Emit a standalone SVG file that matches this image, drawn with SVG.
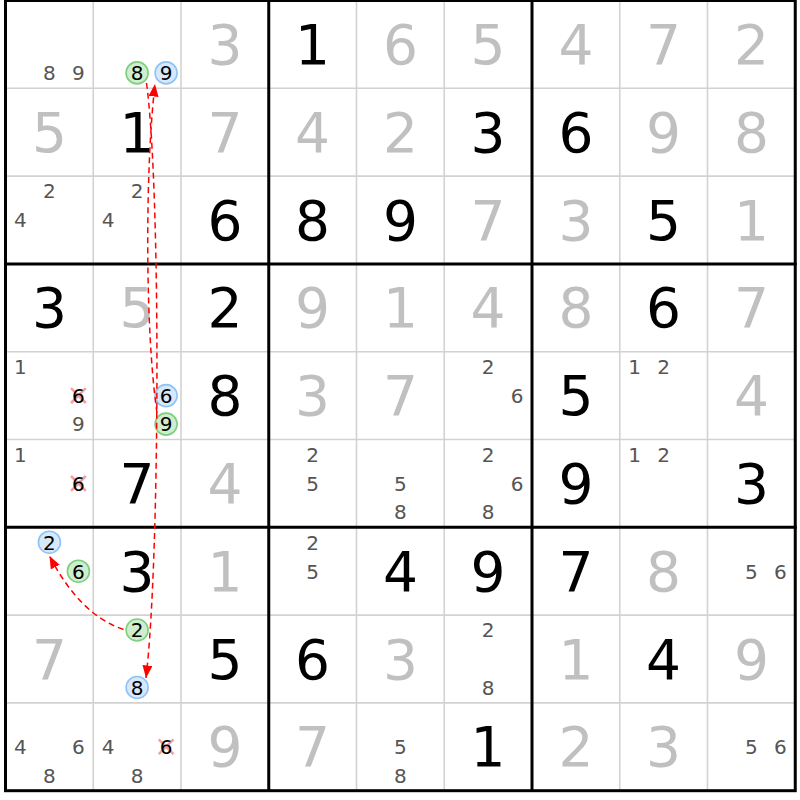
<svg xmlns="http://www.w3.org/2000/svg" width="800" height="800" viewBox="0 0 800 800">
<style>
text{font-family:"DejaVu Sans","Liberation Sans",sans-serif;text-anchor:middle}
.g{font-size:55px;fill:#000}
.s{font-size:55px;fill:#c0c0c0}
.c{font-size:20px;fill:#555}
.k{font-size:20px;fill:#000}
.thin{stroke:#d2d2d2;stroke-width:1.6}
.thick{stroke:#000;stroke-width:3}
.cg{fill:#cfeecf;stroke:#7ccf7c;stroke-width:1.6}
.cb{fill:#d6e9fc;stroke:#8fc3f3;stroke-width:1.6}
.x{stroke:#f3a0a0;stroke-width:2.5}
.ln{fill:none;stroke:#f00;stroke-width:1.5;stroke-dasharray:6,4}
</style>
<defs>
<marker id="ah" markerUnits="userSpaceOnUse" markerWidth="14" markerHeight="12" refX="12.5" refY="5" orient="auto">
<path d="M0,0 L12.5,5 L0,10 z" fill="#f00"/>
</marker>
</defs>
<rect width="800" height="800" fill="#fff"/>
<g id="grid">
<g class="thin">
<line x1="93.25" y1="0" x2="93.25" y2="791"/><line x1="181" y1="0" x2="181" y2="791"/>
<line x1="356.5" y1="0" x2="356.5" y2="791"/><line x1="444.25" y1="0" x2="444.25" y2="791"/>
<line x1="619.75" y1="0" x2="619.75" y2="791"/><line x1="707.5" y1="0" x2="707.5" y2="791"/>
<line x1="5" y1="88.3" x2="796" y2="88.3"/><line x1="5" y1="176.1" x2="796" y2="176.1"/>
<line x1="5" y1="351.7" x2="796" y2="351.7"/><line x1="5" y1="439.5" x2="796" y2="439.5"/>
<line x1="5" y1="615.1" x2="796" y2="615.1"/><line x1="5" y1="702.9" x2="796" y2="702.9"/>
</g>
<g class="thick">
<line x1="268.75" y1="0" x2="268.75" y2="791"/><line x1="532" y1="0" x2="532" y2="791"/>
<line x1="4" y1="263.9" x2="796.7" y2="263.9"/><line x1="4" y1="527.3" x2="796.7" y2="527.3"/>
<rect x="5.5" y="0.5" width="789.75" height="790.2" fill="none"/>
</g>
</g>
<g id="row1">
<g id="r1c1"><text class="c" x="49.4" y="80.2">8</text><text class="c" x="78.4" y="80.2">9</text></g>
<g id="r1c2"><circle class="cg" cx="137.1" cy="72.9" r="11"/><circle class="cb" cx="166.1" cy="72.9" r="11"/><text class="k" x="137.1" y="80.2">8</text><text class="k" x="166.1" y="80.2">9</text></g>
<g id="r1c3"><text class="s" x="224.9" y="63.9">3</text></g>
<g id="r1c4"><text class="g" x="312.6" y="63.9">1</text></g>
<g id="r1c5"><text class="s" x="400.4" y="63.9">6</text></g>
<g id="r1c6"><text class="s" x="488.1" y="63.9">5</text></g>
<g id="r1c7"><text class="s" x="575.9" y="63.9">4</text></g>
<g id="r1c8"><text class="s" x="663.6" y="63.9">7</text></g>
<g id="r1c9"><text class="s" x="751.4" y="63.9">2</text></g>
</g>
<g id="row2">
<g id="r2c1"><text class="s" x="49.4" y="151.7">5</text></g>
<g id="r2c2"><text class="g" x="137.1" y="151.7">1</text></g>
<g id="r2c3"><text class="s" x="224.9" y="151.7">7</text></g>
<g id="r2c4"><text class="s" x="312.6" y="151.7">4</text></g>
<g id="r2c5"><text class="s" x="400.4" y="151.7">2</text></g>
<g id="r2c6"><text class="g" x="488.1" y="151.7">3</text></g>
<g id="r2c7"><text class="g" x="575.9" y="151.7">6</text></g>
<g id="r2c8"><text class="s" x="663.6" y="151.7">9</text></g>
<g id="r2c9"><text class="s" x="751.4" y="151.7">8</text></g>
</g>
<g id="row3">
<g id="r3c1"><text class="c" x="49.4" y="198.3">2</text><text class="c" x="20.4" y="227.3">4</text></g>
<g id="r3c2"><text class="c" x="137.1" y="198.3">2</text><text class="c" x="108.1" y="227.3">4</text></g>
<g id="r3c3"><text class="g" x="224.9" y="239.5">6</text></g>
<g id="r3c4"><text class="g" x="312.6" y="239.5">8</text></g>
<g id="r3c5"><text class="g" x="400.4" y="239.5">9</text></g>
<g id="r3c6"><text class="s" x="488.1" y="239.5">7</text></g>
<g id="r3c7"><text class="s" x="575.9" y="239.5">3</text></g>
<g id="r3c8"><text class="g" x="663.6" y="239.5">5</text></g>
<g id="r3c9"><text class="s" x="751.4" y="239.5">1</text></g>
</g>
<g id="row4">
<g id="r4c1"><text class="g" x="49.4" y="327.3">3</text></g>
<g id="r4c2"><text class="s" x="137.1" y="327.3">5</text></g>
<g id="r4c3"><text class="g" x="224.9" y="327.3">2</text></g>
<g id="r4c4"><text class="s" x="312.6" y="327.3">9</text></g>
<g id="r4c5"><text class="s" x="400.4" y="327.3">1</text></g>
<g id="r4c6"><text class="s" x="488.1" y="327.3">4</text></g>
<g id="r4c7"><text class="s" x="575.9" y="327.3">8</text></g>
<g id="r4c8"><text class="g" x="663.6" y="327.3">6</text></g>
<g id="r4c9"><text class="s" x="751.4" y="327.3">7</text></g>
</g>
<g id="row5">
<g id="r5c1"><text class="c" x="20.4" y="373.9">1</text><path class="x" d="M71,388.2 L85.8,403 M85.8,388.2 L71,403"/><text class="k" x="78.4" y="402.9">6</text><text class="c" x="78.4" y="431.4">9</text></g>
<g id="r5c2"><circle class="cb" cx="166.1" cy="395.6" r="11"/><circle class="cg" cx="166.1" cy="424.1" r="11"/><text class="k" x="166.1" y="402.9">6</text><text class="k" x="166.1" y="431.4">9</text></g>
<g id="r5c3"><text class="g" x="224.9" y="415.1">8</text></g>
<g id="r5c4"><text class="s" x="312.6" y="415.1">3</text></g>
<g id="r5c5"><text class="s" x="400.4" y="415.1">7</text></g>
<g id="r5c6"><text class="c" x="488.1" y="373.9">2</text><text class="c" x="517.1" y="402.9">6</text></g>
<g id="r5c7"><text class="g" x="575.9" y="415.1">5</text></g>
<g id="r5c8"><text class="c" x="634.6" y="373.9">1</text><text class="c" x="663.6" y="373.9">2</text></g>
<g id="r5c9"><text class="s" x="751.4" y="415.1">4</text></g>
</g>
<g id="row6">
<g id="r6c1"><text class="c" x="20.4" y="461.7">1</text><path class="x" d="M71,476 L85.8,490.8 M85.8,476 L71,490.8"/><text class="k" x="78.4" y="490.7">6</text></g>
<g id="r6c2"><text class="g" x="137.1" y="502.9">7</text></g>
<g id="r6c3"><text class="s" x="224.9" y="502.9">4</text></g>
<g id="r6c4"><text class="c" x="312.6" y="461.7">2</text><text class="c" x="312.6" y="490.7">5</text></g>
<g id="r6c5"><text class="c" x="400.4" y="490.7">5</text><text class="c" x="400.4" y="519.2">8</text></g>
<g id="r6c6"><text class="c" x="488.1" y="461.7">2</text><text class="c" x="517.1" y="490.7">6</text><text class="c" x="488.1" y="519.2">8</text></g>
<g id="r6c7"><text class="g" x="575.9" y="502.9">9</text></g>
<g id="r6c8"><text class="c" x="634.6" y="461.7">1</text><text class="c" x="663.6" y="461.7">2</text></g>
<g id="r6c9"><text class="g" x="751.4" y="502.9">3</text></g>
</g>
<g id="row7">
<g id="r7c1"><circle class="cb" cx="49.4" cy="542.2" r="11"/><circle class="cg" cx="78.4" cy="571.2" r="11"/><text class="k" x="49.4" y="549.5">2</text><text class="k" x="78.4" y="578.5">6</text></g>
<g id="r7c2"><text class="g" x="137.1" y="590.7">3</text></g>
<g id="r7c3"><text class="s" x="224.9" y="590.7">1</text></g>
<g id="r7c4"><text class="c" x="312.6" y="549.5">2</text><text class="c" x="312.6" y="578.5">5</text></g>
<g id="r7c5"><text class="g" x="400.4" y="590.7">4</text></g>
<g id="r7c6"><text class="g" x="488.1" y="590.7">9</text></g>
<g id="r7c7"><text class="g" x="575.9" y="590.7">7</text></g>
<g id="r7c8"><text class="s" x="663.6" y="590.7">8</text></g>
<g id="r7c9"><text class="c" x="751.4" y="578.5">5</text><text class="c" x="780.4" y="578.5">6</text></g>
</g>
<g id="row8">
<g id="r8c1"><text class="s" x="49.4" y="678.5">7</text></g>
<g id="r8c2"><circle class="cg" cx="137.1" cy="630" r="11"/><circle class="cb" cx="137.1" cy="687.5" r="11"/><text class="k" x="137.1" y="637.3">2</text><text class="k" x="137.1" y="694.8">8</text></g>
<g id="r8c3"><text class="g" x="224.9" y="678.5">5</text></g>
<g id="r8c4"><text class="g" x="312.6" y="678.5">6</text></g>
<g id="r8c5"><text class="s" x="400.4" y="678.5">3</text></g>
<g id="r8c6"><text class="c" x="488.1" y="637.3">2</text><text class="c" x="488.1" y="694.8">8</text></g>
<g id="r8c7"><text class="s" x="575.9" y="678.5">1</text></g>
<g id="r8c8"><text class="g" x="663.6" y="678.5">4</text></g>
<g id="r8c9"><text class="s" x="751.4" y="678.5">9</text></g>
</g>
<g id="row9">
<g id="r9c1"><text class="c" x="20.4" y="754.1">4</text><text class="c" x="78.4" y="754.1">6</text><text class="c" x="49.4" y="782.6">8</text></g>
<g id="r9c2"><text class="c" x="108.1" y="754.1">4</text><path class="x" d="M158.7,739.4 L173.5,754.2 M173.5,739.4 L158.7,754.2"/><text class="k" x="166.1" y="754.1">6</text><text class="c" x="137.1" y="782.6">8</text></g>
<g id="r9c3"><text class="s" x="224.9" y="766.3">9</text></g>
<g id="r9c4"><text class="s" x="312.6" y="766.3">7</text></g>
<g id="r9c5"><text class="c" x="400.4" y="754.1">5</text><text class="c" x="400.4" y="782.6">8</text></g>
<g id="r9c6"><text class="g" x="488.1" y="766.3">1</text></g>
<g id="r9c7"><text class="s" x="575.9" y="766.3">2</text></g>
<g id="r9c8"><text class="s" x="663.6" y="766.3">3</text></g>
<g id="r9c9"><text class="c" x="751.4" y="754.1">5</text><text class="c" x="780.4" y="754.1">6</text></g>
</g>
<g id="connectors">
<path class="ln" d="M146.5,83 C161,190 160,560 146,678" marker-end="url(#ah)"/>
<path class="ln" d="M157,413 C145,330 145,170 155,84" marker-end="url(#ah)"/>
<path class="ln" d="M123.5,629.5 Q80,615 49.5,556" marker-end="url(#ah)"/>
</g>
</svg>
